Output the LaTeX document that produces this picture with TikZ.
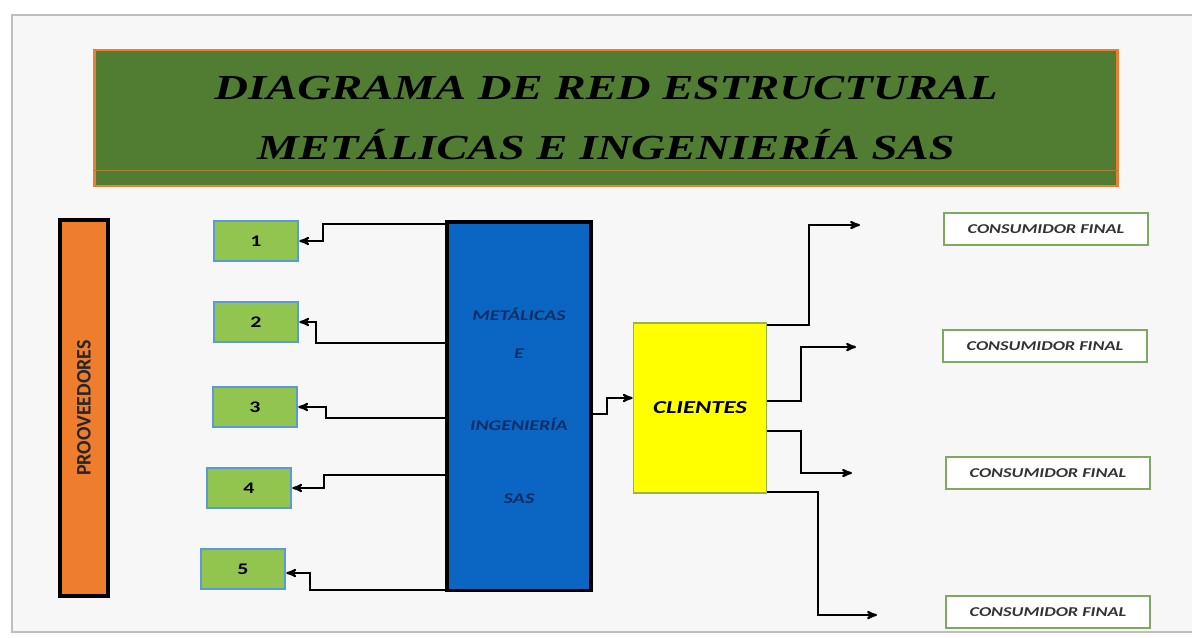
\documentclass[tikz,border=0pt]{standalone}
\usepackage{fontspec}
\setmainfont{Liberation Serif}
\newfontfamily\titlefont[FakeStretch=1.33]{Liberation Serif}
\newfontfamily\boxfont[FakeStretch=1.35]{Carlito}
\usetikzlibrary{arrows,positioning}

\definecolor{framegray}{RGB}{190,190,190}
\definecolor{paper}{RGB}{247,247,247}
\definecolor{titlegreen}{RGB}{80,125,50}
\definecolor{titleorange}{RGB}{237,125,49}
\definecolor{provorange}{RGB}{238,126,46}
\definecolor{numgreen}{RGB}{146,196,80}
\definecolor{numblue}{RGB}{91,155,213}
\definecolor{metblue}{RGB}{10,102,194}
\definecolor{metnavy}{RGB}{15,45,100}
\definecolor{cliyellow}{RGB}{255,255,0}
\definecolor{cliborder}{RGB}{150,180,80}
\definecolor{conborder}{RGB}{125,170,95}

\tikzset{
  titlebox/.style={draw=titleorange, line width=2pt, fill=titlegreen, minimum width=25.55cm, minimum height=3.4cm, align=center, font=\titlefont\bfseries\itshape\fontsize{25}{42.5}\selectfont},
  provbox/.style={draw=black, line width=2.6pt, fill=provorange, minimum width=1.2cm, minimum height=9.4cm, text=black!85, font=\boxfont\bfseries\fontsize{10.5}{12}\selectfont},
  numbox/.style={draw=numblue, line width=1.8pt, fill=numgreen, minimum width=2.1cm, minimum height=1cm, font=\boxfont\bfseries\fontsize{11.5}{13}\selectfont},
  metbox/.style={draw=black, line width=2.2pt, fill=metblue, minimum width=3.6cm, minimum height=9.2cm, align=center, text=metnavy, font=\boxfont\bfseries\itshape\fontsize{10.5}{12}\selectfont},
  clibox/.style={draw=cliborder, line width=1pt, fill=cliyellow, minimum width=3.33cm, minimum height=4.25cm, font=\boxfont\bfseries\itshape\fontsize{13}{15}\selectfont},
  conbox/.style={draw=conborder, line width=1.2pt, fill=white, minimum width=5.1cm, minimum height=0.8cm, text=black!80, font=\boxfont\bfseries\itshape\fontsize{9.6}{11}\selectfont}
}

\begin{document}
\begin{tikzpicture}[->,>=stealth',line width=1.4pt,x=0.025cm,y=-0.025cm]
  \useasboundingbox (0,0) rectangle (1192,638);
  \fill[white] (0,0) rectangle (1192,638);
  \draw[-,framegray,line width=1.5pt,fill=paper] (12,15) rectangle (1215,632);

  \node[titlebox] (title) at (606,118) {DIAGRAMA DE RED ESTRUCTURAL\\METÁLICAS E INGENIERÍA SAS};
  \draw[-,titleorange!60!titlegreen,line width=0.8pt] ([yshift=12pt]title.south west) -- ([yshift=12pt]title.south east);

  \node[provbox] (prov) at (84,408) {\rotatebox{90}{\scalebox{1}[1.4]{PROOVEEDORES}}};

  \node[numbox] (p1) at (256,241) {1};
  \node[numbox] (p2) at (256,322) {2};
  \node[numbox] (p3) at (255,407) {3};
  \node[numbox] (p4) at (249,488) {4};
  \node[numbox] (p5) at (243,569) {5};

  \node[metbox] (met) at (519,406) {METÁLICAS\\[15pt]E\\[39pt]INGENIERÍA\\[40pt]SAS};

  \node[clibox] (cli) at (700,408) {CLIENTES};

  \node[conbox] (con1) at (1046,229) {CONSUMIDOR FINAL};
  \node[conbox] (con2) at (1045,346) {CONSUMIDOR FINAL};
  \node[conbox] (con3) at (1048,473) {CONSUMIDOR FINAL};
  \node[conbox] (con4) at (1048,612) {CONSUMIDOR FINAL};

  \coordinate (e1) at (860,225);
  \coordinate (e2) at (856,347);
  \coordinate (e3) at (852,473);
  \coordinate (e4) at (877,615);

  \draw (met.west |- 0,224) -- ++(-122,0) |- (p1);
  \draw (met.west |- 0,343) -- ++(-129,0) |- (p2);
  \draw (met.west |- 0,418) -- ++(-119,0) |- (p3);
  \draw (met.west |- 0,475) -- ++(-121,0) |- (p4);
  \draw (met.west |- 0,590) -- ++(-135,0) |- (p5.east |- 0,573);

  \draw (met.east |- 0,414) -- ++(14,0) |- (cli.west |- 0,398);

  \draw (cli.east |- 0,325) -- ++(42,0) |- (e1);
  \draw (cli.east |- 0,401) -- ++(34,0) |- (e2);
  \draw (cli.east |- 0,431) -- ++(34,0) |- (e3);
  \draw (cli.east |- 0,492) -- ++(51,0) |- (e4);
\end{tikzpicture}
\end{document}
